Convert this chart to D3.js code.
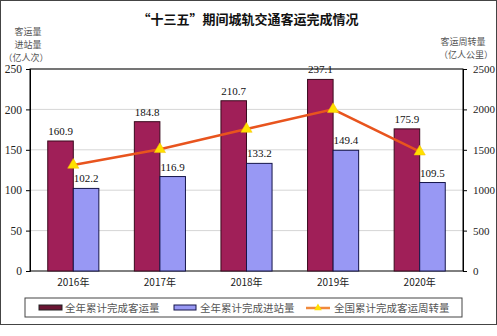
<!DOCTYPE html>
<html><head><meta charset="utf-8">
<script src="https://cdn.jsdelivr.net/npm/d3@7"></script>
<style>body{margin:0;background:#fff}svg{display:block}</style>
</head><body>
<script>
const years = ["2016年","2017年","2018年","2019年","2020年"];
const ridership = [160.9,184.8,210.7,237.1,175.9];
const entries = [102.2,116.9,133.2,149.4,109.5];
const turnover = [1312,1506,1757,2001,1476];
const leftTicks = [0,50,100,150,200,250];
const rightTicks = [0,500,1000,1500,2000,2500];

const W=497,H=336;
const m={l:30,r:463,t:69,b:271};
const svg=d3.select("body").append("svg").attr("width",W).attr("height",H);
const serif="'Liberation Serif','Times New Roman',serif";
const cjk="'Noto Sans CJK SC','Noto Serif CJK SC',sans-serif";

svg.append("rect").attr("x",0.5).attr("y",0.5).attr("width",W-1).attr("height",324).attr("fill","#fff").attr("stroke","#444");

const x=d3.scaleBand().domain(years).range([m.l,m.r]);
const yL=d3.scaleLinear().domain([0,250]).range([m.b,m.t]);
const yR=d3.scaleLinear().domain([0,2500]).range([m.b,m.t]);

// grid
svg.append("g").selectAll("line").data(leftTicks.slice(1)).join("line")
 .attr("x1",m.l).attr("x2",m.r).attr("y1",d=>yL(d)).attr("y2",d=>yL(d))
 .attr("stroke","#d6d6d6").attr("stroke-width",1);
// frame
svg.append("rect").attr("x",m.l).attr("y",m.t).attr("width",m.r-m.l).attr("height",m.b-m.t)
 .attr("fill","none").attr("stroke","#000").attr("stroke-width",1);

// axes
const gl=svg.append("g").attr("transform",`translate(${m.l},0)`)
 .call(d3.axisLeft(yL).tickValues(leftTicks).tickSize(4).tickPadding(4).tickFormat(d3.format("d")));
const gr=svg.append("g").attr("transform",`translate(${m.r},0)`)
 .call(d3.axisRight(yR).tickValues(rightTicks).tickSize(4).tickPadding(6).tickFormat(d3.format("d")));
const gx=svg.append("g").attr("transform",`translate(0,${m.b})`)
 .call(d3.axisBottom(x).tickSize(0).tickPadding(8));
[gl,gr,gx].forEach(g=>{g.select(".domain").attr("stroke","#000");
 g.selectAll("text").attr("font-family",serif).attr("font-size",11).attr("fill","#222");});
gl.selectAll("text").attr("font-size",11.5);
gx.selectAll("text").attr("font-family",cjk).attr("font-size",10);
gx.select(".domain").remove();

const bw=x.bandwidth()*0.295;
const cx=d=>x(d)+x.bandwidth()/2;
svg.append("g").selectAll("rect").data(years).join("rect")
 .attr("x",d=>cx(d)-bw).attr("y",(d,i)=>yL(ridership[i])).attr("width",bw)
 .attr("height",(d,i)=>m.b-yL(ridership[i])).attr("fill","#a01f58").attr("stroke","#3a0a1e").attr("stroke-width",1);
svg.append("g").selectAll("rect").data(years).join("rect")
 .attr("x",d=>cx(d)).attr("y",(d,i)=>yL(entries[i])).attr("width",bw)
 .attr("height",(d,i)=>m.b-yL(entries[i])).attr("fill","#9898f4").attr("stroke","#15154a").attr("stroke-width",1);

svg.append("g").selectAll("text").data(years).join("text")
 .attr("x",d=>cx(d)-bw/2).attr("y",(d,i)=>yL(ridership[i])-6).attr("text-anchor","middle")
 .attr("font-family",serif).attr("font-size",11).attr("fill","#111").text((d,i)=>ridership[i].toFixed(1));
svg.append("g").selectAll("text").data(years).join("text")
 .attr("x",d=>cx(d)+bw/2).attr("y",(d,i)=>yL(entries[i])-6).attr("text-anchor","middle")
 .attr("font-family",serif).attr("font-size",11).attr("fill","#111").text((d,i)=>entries[i].toFixed(1));

// line
const line=d3.line().x(d=>cx(d[0])).y(d=>yR(d[1]));
svg.append("path").datum(years.map((y,i)=>[y,turnover[i]])).attr("d",line)
 .attr("fill","none").attr("stroke","#e8541e").attr("stroke-width",2.5);
const tri=d3.symbol().type(d3.symbolTriangle).size(55);
svg.append("g").selectAll("path").data(years).join("path")
 .attr("transform",(d,i)=>`translate(${cx(d)},${yR(turnover[i])})`).attr("d",tri)
 .attr("fill","#ffe000").attr("stroke","#f5c000").attr("stroke-width",0.5);

// title
svg.append("text").attr("x",248).attr("y",24).attr("text-anchor","middle")
 .attr("font-family",cjk).attr("font-weight","bold").attr("font-size",13).attr("fill","#111")
 .text("“十三五”期间城轨交通客运完成情况");
// axis titles
const lt=["客运量","进站量","（亿人次）"];
svg.append("g").selectAll("text").data(lt).join("text")
 .attr("x",(d,i)=>i<2?28:26).attr("y",(d,i)=>34.5+i*13).attr("text-anchor","middle")
 .attr("font-family",cjk).attr("font-size",9).attr("fill","#555").text(d=>d);
const rt=["客运周转量","（亿人公里）"];
svg.append("g").selectAll("text").data(rt).join("text")
 .attr("x",(d,i)=>i?466:463).attr("y",(d,i)=>45+i*13).attr("text-anchor","middle")
 .attr("font-family",cjk).attr("font-size",9).attr("fill","#555").text(d=>d);

// legend
const lg=svg.append("g");
lg.append("rect").attr("x",25).attr("y",298).attr("width",437).attr("height",19).attr("fill","#fff").attr("stroke","#444");
const ly=308;
lg.append("rect").attr("x",39).attr("y",ly-3).attr("width",23).attr("height",5).attr("fill","#6a1533").attr("stroke","#222");
lg.append("rect").attr("x",174).attr("y",ly-3).attr("width",22).attr("height",5).attr("fill","#9898f4").attr("stroke","#15154a");
lg.append("line").attr("x1",306).attr("x2",330).attr("y1",ly).attr("y2",ly).attr("stroke","#f08a3c").attr("stroke-width",2.5);
lg.append("path").attr("transform",`translate(318,${ly})`).attr("d",d3.symbol().type(d3.symbolTriangle).size(25)).attr("fill","#ffe000");
const lts=[[65,"全年累计完成客运量"],[200,"全年累计完成进站量"],[334,"全国累计完成客运周转量"]];
lg.selectAll("text").data(lts).join("text").attr("x",d=>d[0]).attr("y",ly+4)
 .attr("font-family",cjk).attr("font-size",10.5).attr("fill","#555").text(d=>d[1]);
</script>
</body></html>
